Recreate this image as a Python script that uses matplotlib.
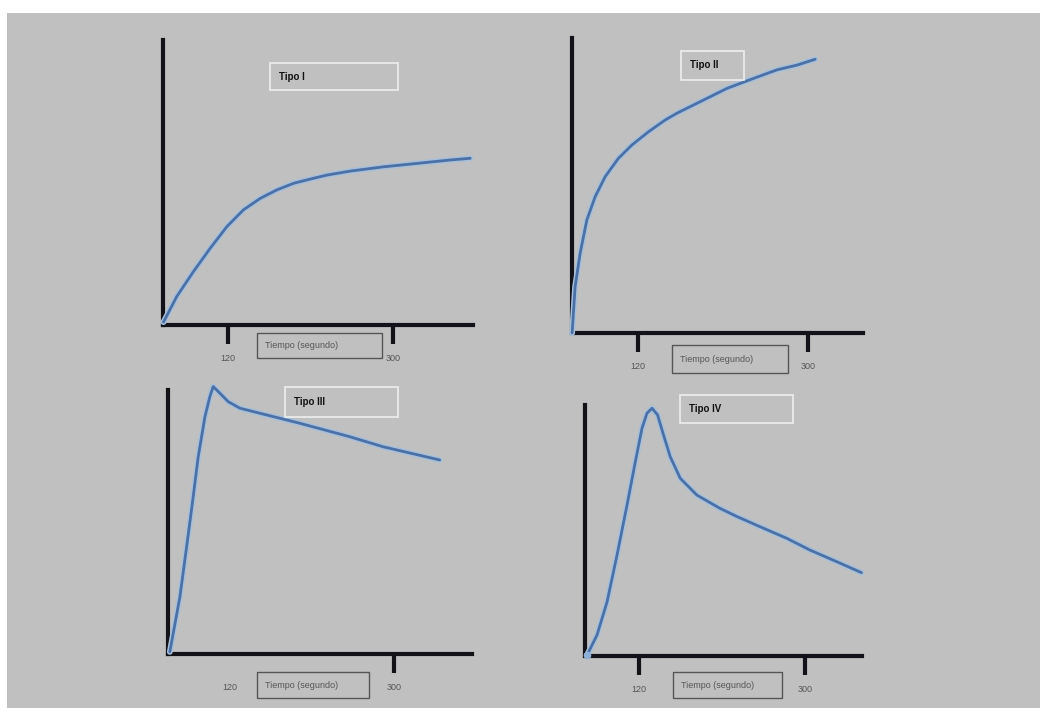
import matplotlib.pyplot as plt
from matplotlib.patches import Rectangle

W, H = 1041, 708

# time (s) / relative response
t_tipo1 = [49.5, 64.0, 82.1, 100.4, 118.6, 136.7, 154.9, 173.1, 191.2, 209.5, 227.7, 242.2, 253.1,
           289.4, 325.9, 362.2, 384]
v_tipo1 = [1.0, 10.0, 18.7, 26.9, 34.5, 40.4, 44.4, 47.4, 49.7, 51.2, 52.6, 53.4, 54.0,
           55.5, 56.7, 57.9, 58.5]

t_tipo2 = [50.1, 53.3, 58.6, 65.7, 74.5, 85.1, 99.1, 113.3, 130.9, 148.6, 161.0, 185.6, 213.9,
           242.1, 266.9, 288.0, 307.4]
v_tipo2 = [0, 15.7, 27.0, 38.3, 46.2, 53.0, 59.2, 63.7, 68.2, 72.2, 74.5, 78.4, 82.9,
           86.3, 89.2, 90.8, 92.8]

t_tipo3 = [54.0, 65.1, 72.5, 79.7, 85.2, 92.6, 98.0, 101.7, 109.0, 118.1, 131.0, 152.9, 196.8,
           251.7, 288.3, 350.5]
v_tipo3 = [0.8, 21.7, 40.7, 59.6, 74.7, 89.9, 97.5, 101.3, 98.8, 95.6, 93.1, 91.2, 87.4,
           82.3, 78.5, 73.5]

t_tipo4 = [63.3, 74.1, 85.0, 95.8, 106.7, 115.7, 122.9, 128.3, 133.8, 139.8, 146.3, 153.6, 164.5,
           182.6, 207.8, 225.9, 251.2, 280.2, 305.5, 334.4, 361.5]
v_tipo4 = [0.4, 8.4, 21.6, 40.2, 60.2, 77.4, 90.7, 96.7, 98.7, 96.1, 88.1, 79.4, 70.8,
           64.1, 58.8, 55.6, 51.5, 46.9, 42.2, 37.6, 33.2]

tick_vals = [120, 300]
tick_labels = ["120", "300"]
titles = ["Tipo I", "Tipo II", "Tipo III", "Tipo IV"]
xlabel = "Tiempo (segundo)"

series = [(t_tipo1, v_tipo1), (t_tipo2, v_tipo2), (t_tipo3, v_tipo3), (t_tipo4, v_tipo4)]

# panel layout in pixels: (x origin, y origin, x end, y top), xlim, title box, xlabel box, show 120 tick
panels = [
    dict(px=(163, 325, 473, 40), xlim=(49, 387), tbox=(270, 63, 398, 90), lbox=(257, 333, 382, 358), tick120=True),
    dict(px=(572, 333, 863, 38), xlim=(50, 358), tbox=(681, 51, 744, 80), lbox=(672, 345, 788, 373), tick120=True),
    dict(px=(168, 654, 472, 390), xlim=(52, 386), tbox=(285, 387, 398, 417), lbox=(257, 672, 369, 698), tick120=False),
    dict(px=(585, 656, 862, 405), xlim=(61, 362), tbox=(680, 395, 793, 423), lbox=(673, 672, 782, 698), tick120=True),
]

plt.rcParams['font.family'] = ['Liberation Sans', 'DejaVu Sans']

fig = plt.figure(figsize=(W / 100, H / 100), dpi=100, facecolor='white')

# grey slide background
bg = fig.add_axes([7 / W, 0, (W - 8) / W, (H - 13) / H], zorder=-5)
bg.set_facecolor('#c0c0c0')
bg.set_xticks([])
bg.set_yticks([])
for s in bg.spines.values():
    s.set_visible(False)

for i, (p, (t, v)) in enumerate(zip(panels, series)):
    x0, y0, x1, ytop = p['px']
    ax = fig.add_axes([x0 / W, (H - y0) / H, (x1 - x0) / W, (y0 - ytop) / H])
    ax.set_facecolor('none')
    ax.set_xlim(*p['xlim'])
    ax.set_ylim(0, 100)
    for s in ['top', 'right']:
        ax.spines[s].set_visible(False)
    for s in ['left', 'bottom']:
        ax.spines[s].set_linewidth(3)
        ax.spines[s].set_color('#121218')
    ax.set_yticks([])
    ax.set_xticks(tick_vals)
    ax.set_xticklabels(tick_labels)
    ax.tick_params(axis='x', direction='out', length=14, width=3, color='#121218',
                   pad=7, labelsize=6.5, labelcolor='#555555')
    if not p['tick120']:
        ax.xaxis.get_major_ticks()[0].tick1line.set_visible(False)

    ax.plot(t, v, color='#a6c0dc', lw=4.2, solid_capstyle='round', solid_joinstyle='round',
            clip_on=False, zorder=3)
    ax.plot(t, v, color='#4b70a6', lw=2, solid_capstyle='round', solid_joinstyle='round',
            clip_on=False, zorder=4)
    if i == 3:
        ax.plot(t[0], v[0], 'o', ms=4.5, color='#8fb0d6', clip_on=False, zorder=5)

# overlay for the annotation boxes, in pixel coordinates
ov = fig.add_axes([0, 0, 1, 1])
ov.set_xlim(0, W)
ov.set_ylim(H, 0)
ov.axis('off')
ov.set_facecolor('none')

for p, title in zip(panels, titles):
    bx0, by0, bx1, by1 = p['tbox']
    ov.add_patch(Rectangle((bx0, by0), bx1 - bx0, by1 - by0, facecolor='none',
                           edgecolor='#eeeeee', lw=1.2))
    ov.text(bx0 + 9, (by0 + by1) / 2, title, fontsize=7, fontweight='bold',
            color='#111111', va='center', ha='left')

    lx0, ly0, lx1, ly1 = p['lbox']
    ov.add_patch(Rectangle((lx0, ly0), lx1 - lx0, ly1 - ly0, facecolor='none',
                           edgecolor='#555555', lw=1))
    ov.text(lx0 + 8, (ly0 + ly1) / 2, xlabel, fontsize=6.5, color='#555555',
            va='center', ha='left')

fig.savefig('out.png', dpi=100, facecolor='white')
